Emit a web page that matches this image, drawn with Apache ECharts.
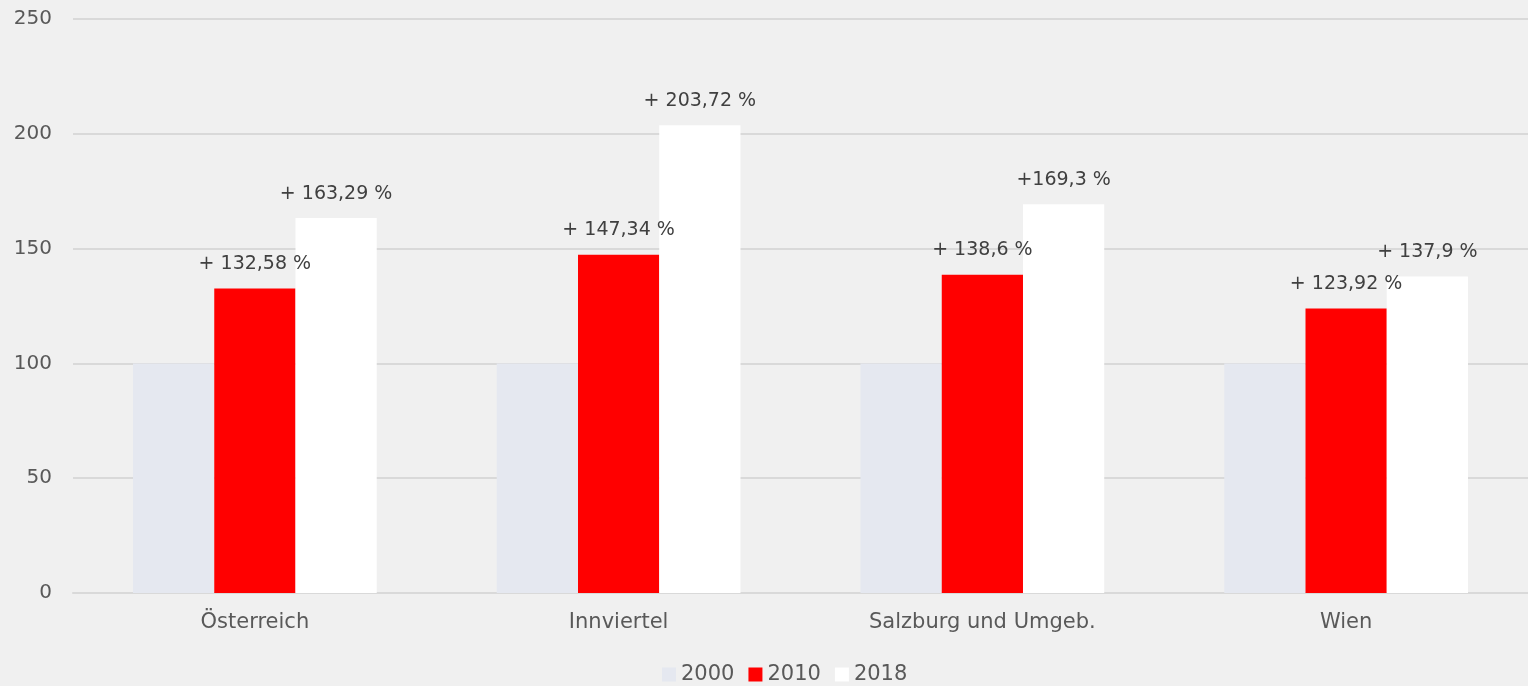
<!DOCTYPE html>
<html>
<head>
<meta charset="utf-8">
<script src="https://cdn.jsdelivr.net/npm/echarts@6/dist/echarts.min.js"></script>
<style>
  html, body { margin: 0; padding: 0; background: #f0f0f0; }
  #chart { width: 1528px; height: 686px; }
</style>
</head>
<body>
<div id="chart"></div>
<script>
const categories = ['Österreich', 'Innviertel', 'Salzburg und Umgeb.', 'Wien'];
const values2000 = [100, 100, 100, 100];
const values2010 = [132.58, 147.34, 138.6, 123.92];
const values2018 = [163.29, 203.72, 169.3, 137.9];
const labels2010 = ['+ 132,58 %', '+ 147,34 %', '+ 138,6 %', '+ 123,92 %'];
const labels2018 = ['+ 163,29 %', '+ 203,72 %', '+169,3 %', '+ 137,9 %'];

const font = 'DejaVu Sans';
const chart = echarts.init(document.getElementById('chart'));

const labelFor = (texts) => ({
  show: true,
  position: 'top',
  distance: 15,
  color: '#404040',
  fontFamily: font,
  fontSize: 19,
  formatter: (p) => texts[p.dataIndex]
});

chart.setOption({
  backgroundColor: '#f0f0f0',
  animation: false,
  grid: { left: 73, right: 0, top: 19, bottom: 93 },
  legend: {
    top: 664,
    left: 662,
    padding: 0,
    itemWidth: 14,
    itemHeight: 14,
    itemGap: 14,
    icon: 'rect',
    textStyle: { color: '#595959', fontFamily: font, fontSize: 21 },
    data: ['2000', '2010', '2018']
  },
  xAxis: {
    type: 'category',
    data: categories,
    axisLine: { lineStyle: { color: '#d9d9d9', width: 2 } },
    axisTick: { show: false },
    axisLabel: { color: '#595959', fontFamily: font, fontSize: 21, margin: 19 }
  },
  yAxis: {
    type: 'value',
    min: 0,
    max: 250,
    interval: 50,
    axisLine: { show: false },
    axisTick: { show: false },
    splitLine: { lineStyle: { color: '#d9d9d9', width: 2 } },
    axisLabel: { color: '#595959', fontFamily: font, fontSize: 20, margin: 21 }
  },
  series: [
    { name: '2000', type: 'bar', data: values2000, barGap: 0, barCategoryGap: '33%',
      itemStyle: { color: '#e5e8f0' } },
    { name: '2010', type: 'bar', data: values2010, barGap: 0, barCategoryGap: '33%',
      itemStyle: { color: '#ff0000' }, label: labelFor(labels2010) },
    { name: '2018', type: 'bar', data: values2018, barGap: 0, barCategoryGap: '33%',
      itemStyle: { color: '#ffffff' }, label: labelFor(labels2018) }
  ]
});
</script>
</body>
</html>
